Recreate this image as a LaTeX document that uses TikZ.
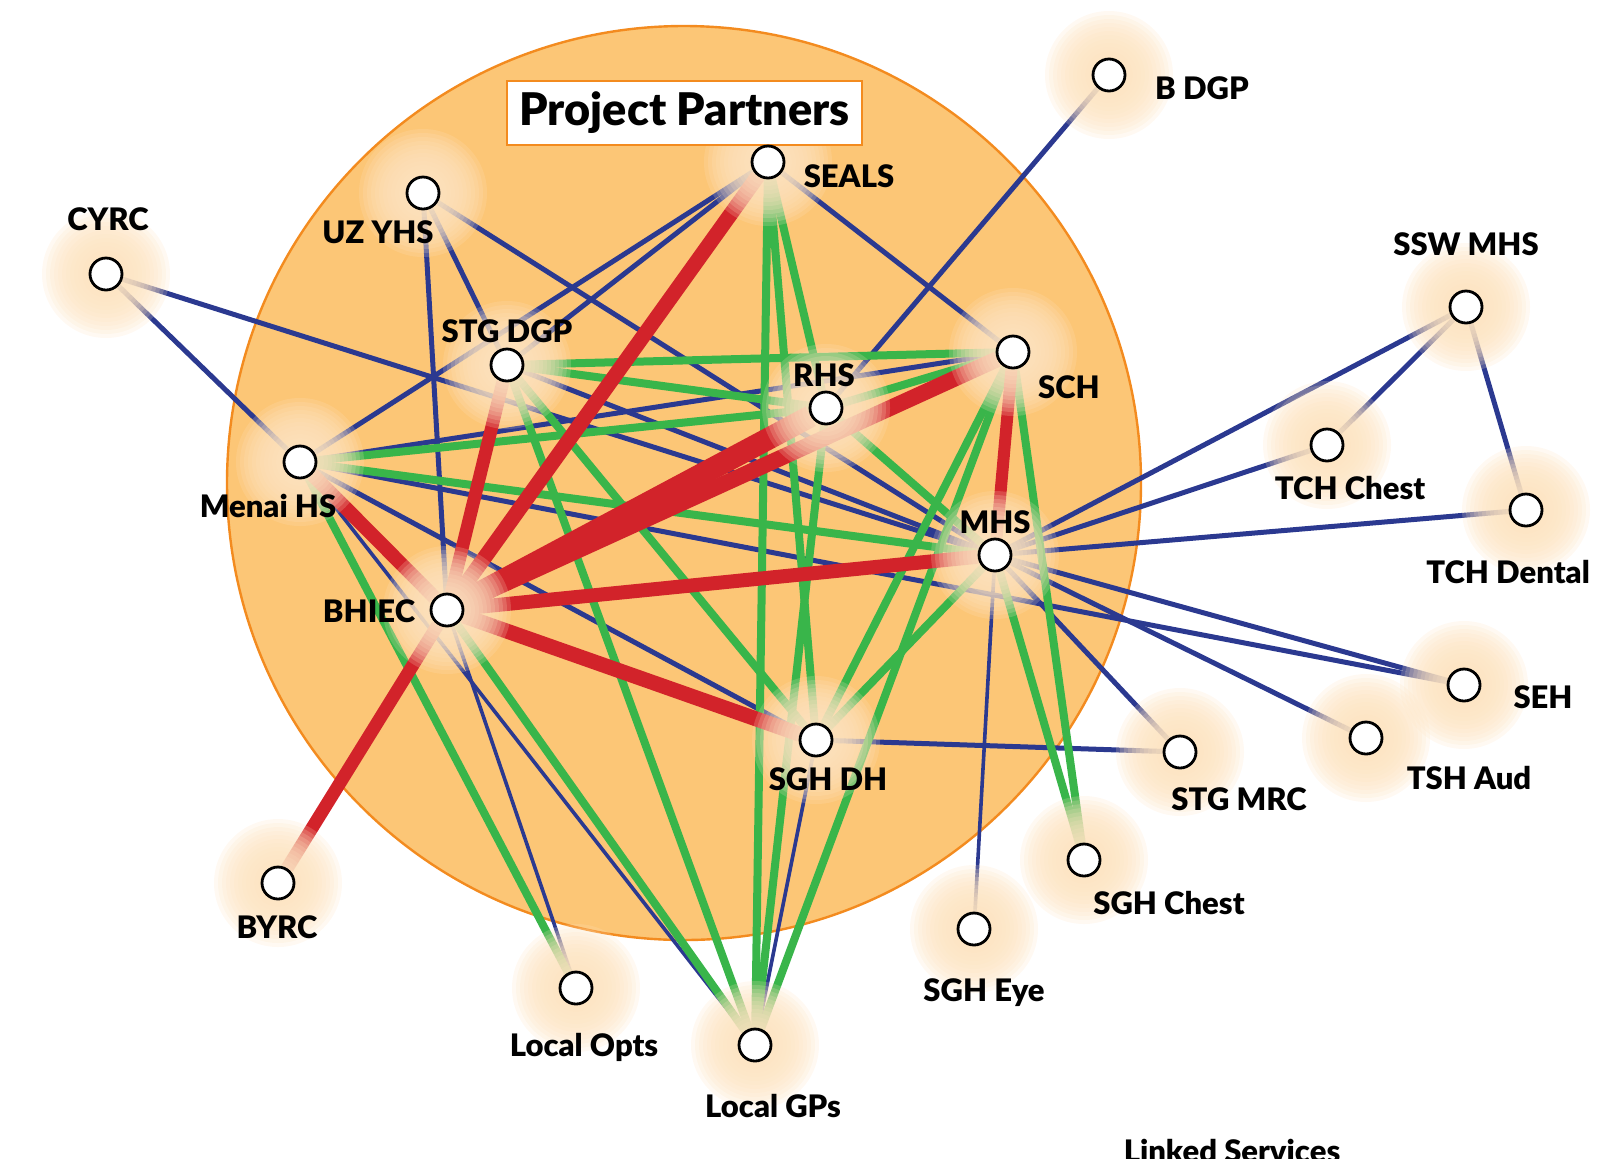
\documentclass[tikz,border=0pt]{standalone}
\usepackage{fontspec}
\setsansfont{Lato}[BoldFont={Lato Black}]
\usetikzlibrary{positioning}
\definecolor{diskfill}{HTML}{FCC676}
\definecolor{diskline}{HTML}{F38B1F}
\definecolor{glowc}{HTML}{FDE3C0}
\definecolor{linkblue}{HTML}{2B3990}
\definecolor{linkgreen}{HTML}{39B54A}
\definecolor{linkred}{HTML}{D2232A}
\pgfdeclarelayer{disk}
\pgfdeclarelayer{bluel}
\pgfdeclarelayer{greenl}
\pgfdeclarelayer{redl}
\pgfdeclarelayer{glowl}
\pgfsetlayers{disk,bluel,greenl,redl,glowl,main}

\begin{document}
\begin{tikzpicture}[x=0.5pt, y=-0.5pt,
		service/.style={
			circle,
			draw=black,
			fill=white,
			line width=1.4pt,
			minimum size=16pt,
			inner sep=0pt,
		},
		lbl/.style={font=\fontsize{15.5}{18}\selectfont\sffamily\bfseries, inner sep=0pt, anchor=base},
		weak/.style={draw=linkblue, line width=2.5pt},
		thin weak/.style={draw=linkblue, line width=1.8pt},
		mid/.style={draw=linkgreen, line width=4pt},
		strong/.style={draw=linkred, line width=#1},
		strong/.default=7pt]
		\useasboundingbox (0,0) rectangle (1605,1158);
		
		% partners disk
		\begin{pgfonlayer}{disk}
			\fill[diskfill, draw=diskline, line width=1.2pt] (684,483) circle (228.5pt);
		\end{pgfonlayer}
		
		\node[draw=diskline, fill=white, line width=0.6pt, minimum width=177.5pt, minimum height=32pt,
			font=\fontsize{22.5}{26}\selectfont\sffamily\bfseries] (title) at (684.5,113) {Project Partners};
		
		% services
		\node[service] (bdgp) at (1109,75) {};
		\node[service] (seals) at (768,162) {};
		\node[service] (uzyhs) at (423,193) {};
		\node[service] (cyrc) at (106,274) {};
		\node[service] (sswmhs) at (1466,307) {};
		\node[service] (stgdgp) at (507,365) {};
		\node[service] (sch) at (1013,352) {};
		\node[service] (rhs) at (826,408) {};
		\node[service] (tchchest) at (1327,445) {};
		\node[service] (menai) at (300,462) {};
		\node[service] (tchdental) at (1526,510) {};
		\node[service] (mhs) at (995,555) {};
		\node[service] (bhiec) at (447,610) {};
		\node[service] (seh) at (1464,685) {};
		\node[service] (tshaud) at (1366,738) {};
		\node[service] (sghdh) at (816,740) {};
		\node[service] (stgmrc) at (1180,752) {};
		\node[service] (sghchest) at (1084,860) {};
		\node[service] (byrc) at (278,883) {};
		\node[service] (sgheye) at (974,929) {};
		\node[service] (localopts) at (576,988) {};
		\node[service] (localgps) at (755,1045) {};
		
		% labels
		\node[lbl] (bdgpL) at (1202,99) {B DGP};
		\node[lbl] (sealsL) at (849,187) {SEALS};
		\node[lbl] (uzyhsL) at (378,243) {UZ YHS};
		\node[lbl] (cyrcL) at (108,230) {CYRC};
		\node[lbl] (sswmhsL) at (1466,255) {SSW MHS};
		\node[lbl] (stgdgpL) at (507,342) {STG DGP};
		\node[lbl] (rhsL) at (824,386) {RHS};
		\node[lbl] (schL) at (1069,398) {SCH};
		\node[lbl] (tchchestL) at (1350,499) {TCH Chest};
		\node[lbl] (menaiL) at (268,517) {Menai HS};
		\node[lbl] (tchdentalL) at (1508,583) {TCH Dental};
		\node[lbl] (mhsL) at (995,533) {MHS};
		\node[lbl] (bhiecL) at (369,622) {BHIEC};
		\node[lbl] (sehL) at (1543,708) {SEH};
		\node[lbl] (tshaudL) at (1469,789) {TSH Aud};
		\node[lbl] (sghdhL) at (828,790) {SGH DH};
		\node[lbl] (stgmrcL) at (1239,810) {STG MRC};
		\node[lbl] (sghchestL) at (1169,914) {SGH Chest};
		\node[lbl] (byrcL) at (277,938) {BYRC};
		\node[lbl] (sgheyeL) at (984,1001) {SGH Eye};
		\node[lbl] (localoptsL) at (584,1056) {Local Opts};
		\node[lbl] (localgpsL) at (773,1117) {Local GPs};
		\node[lbl] (linked) at (1232,1162) {Linked Services};
		
		% weak links
		\begin{pgfonlayer}{bluel}
			\draw[weak] (bdgp) -- (rhs);
			\draw[weak] (seals) -- (sch);
			\draw[weak] (seals) -- (stgdgp);
			\draw[weak] (seals) -- (menai);
			\draw[weak] (uzyhs) -- (stgdgp);
			\draw[weak] (uzyhs) -- (bhiec);
			\draw[weak] (uzyhs) -- (mhs);
			\draw[weak] (cyrc) -- (menai);
			\draw[weak] (cyrc) -- (mhs);
			\draw[weak] (menai) -- (sch);
			\draw[weak] (menai) -- (sghdh);
			\draw[weak] (menai) -- (seh);
			\draw[thin weak] (menai) -- (localgps);
			\draw[weak] (stgdgp) -- (mhs);
			\draw[thin weak] (bhiec) -- (localopts);
			\draw[thin weak] (sghdh) -- (localgps);
			\draw[weak] (sghdh) -- (stgmrc);
			\draw[weak] (mhs) -- (sswmhs);
			\draw[weak] (mhs) -- (tchchest);
			\draw[weak] (mhs) -- (tchdental);
			\draw[weak] (mhs) -- (seh);
			\draw[weak] (mhs) -- (tshaud);
			\draw[weak] (mhs) -- (stgmrc);
			\draw[thin weak] (mhs) -- (sgheye);
			\draw[weak] (sswmhs) -- (tchchest);
			\draw[weak] (sswmhs) -- (tchdental);
		\end{pgfonlayer}
		
		% mid links
		\begin{pgfonlayer}{greenl}
			\draw[mid] (seals) -- (rhs);
			\draw[mid] (seals) -- (sghdh);
			\draw[mid] (seals) -- (localgps);
			\draw[mid] (stgdgp) -- (sch);
			\draw[mid] (stgdgp) -- (rhs);
			\draw[mid] (stgdgp) -- (sghdh);
			\draw[mid] (stgdgp) -- (localgps);
			\draw[mid] (menai) -- (rhs);
			\draw[mid] (menai) -- (mhs);
			\draw[mid] (menai) -- (localopts);
			\draw[mid] (rhs) -- (sch);
			\draw[mid] (rhs) -- (mhs);
			\draw[mid] (rhs) -- (localgps);
			\draw[mid] (sch) -- (sghdh);
			\draw[mid] (sch) -- (localgps);
			\draw[mid] (sch) -- (sghchest);
			\draw[mid] (mhs) -- (sghdh);
			\draw[mid] (mhs) -- (sghchest);
			\draw[mid] (bhiec) -- (localgps);
		\end{pgfonlayer}
		
		% strong links
		\begin{pgfonlayer}{redl}
			\draw[strong] (bhiec) -- (menai);
			\draw[strong=6.5pt] (bhiec) -- (stgdgp);
			\draw[strong=7.5pt] (bhiec) -- (seals);
			\draw[strong=11pt] (bhiec) -- (rhs);
			\draw[strong=8pt] (bhiec) -- (sch);
			\draw[strong] (bhiec) -- (mhs);
			\draw[strong=7.5pt] (bhiec) -- (sghdh);
			\draw[strong=6.5pt] (bhiec) -- (byrc);
			\draw[strong=6pt] (sch) -- (mhs);
		\end{pgfonlayer}
		
		% glow round every service
		\begin{pgfonlayer}{glowl}
			\foreach \n in {bdgp,seals,uzyhs,cyrc,sswmhs,stgdgp,sch,rhs,tchchest,menai,tchdental,
				mhs,bhiec,seh,tshaud,sghdh,stgmrc,sghchest,byrc,sgheye,localopts,localgps}
				\foreach \r in {32,30,...,6}
					\fill[glowc, opacity=.2] (\n.center) circle (\r pt);
		\end{pgfonlayer}
	\end{tikzpicture}
\end{document}
